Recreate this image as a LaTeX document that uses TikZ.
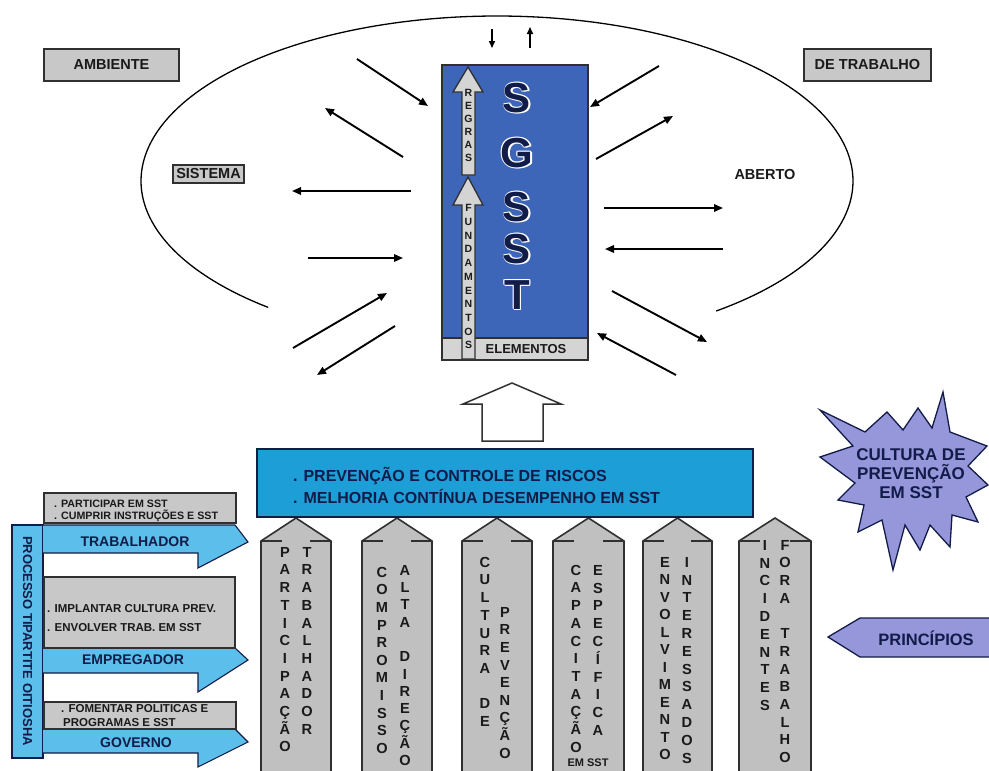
\documentclass[tikz,border=0pt]{standalone}
\usepackage{fontspec}
\setmainfont{Liberation Sans}
\usetikzlibrary{arrows.meta}

\definecolor{sgblue}{RGB}{61,102,184}
\definecolor{barblue}{RGB}{30,158,214}
\definecolor{lightblue}{RGB}{92,190,235}
\definecolor{navy}{RGB}{18,28,72}
\definecolor{boxgray}{RGB}{200,200,200}
\definecolor{stripgray}{RGB}{212,212,212}
\definecolor{pillargray}{RGB}{192,192,192}
\definecolor{lav}{RGB}{150,150,218}
\definecolor{edge}{RGB}{48,48,48}
\definecolor{ink}{RGB}{26,26,26}

% one vertical column of stacked letters: name, x, centre y of first letter, step, letters
\newcommand\lettercolumn[5]{%
  \foreach \ch [count=\k] in {#5} {
    \node[pillarletter] (#1-\k) at (#2,{#3+5.2+(\k-1)*#4}) {\ch};
  }%
}
% small stacked letters inside the two arrows of the SGSST block
\newcommand\smallcolumn[5]{%
  \foreach \ch [count=\k] in {#5} {
    \node[arrowletter] (#1-\k) at (#2,{#3+3.8+(\k-1)*#4}) {\ch};
  }%
}
% a large letter with a light halo
\newcommand\haloglyph[4]{%
  \foreach \dx/\dy [count=\j] in {1.5/1.5,-0.9/0.9,0.9/-0.9,-0.9/-0.9,1.6/0,0/1.6} {
    \node[sgletter,text=white] (#1h\j) at ({#2+\dx},{#3+15+\dy}) {#4};
  }
  \node[sgletter] (#1) at (#2,{#3+15}) {#4};
}

\begin{document}
\begin{tikzpicture}[x=1pt,y=-1pt,
  envbox/.style={draw=edge, line width=1.6pt, fill=boxgray, inner sep=0pt,
    font=\bfseries\fontsize{14.5}{17}\selectfont, text=ink},
  plainlabel/.style={inner sep=0pt, font=\bfseries\fontsize{14.5}{17}\selectfont, text=ink},
  flow/.style={line width=1.9pt, draw=black, -{Triangle[length=9pt,width=7.5pt]}},
  smallflow/.style={line width=1.5pt, draw=black, -{Triangle[length=7pt,width=6pt]}},
  pillar/.style={fill=pillargray, draw=edge, line width=1.6pt},
  pillarletter/.style={anchor=base, inner sep=0pt, text=ink,
    font=\bfseries\fontsize{14.6}{14.6}\selectfont},
  arrowletter/.style={anchor=base, inner sep=0pt, text=ink,
    font=\bfseries\fontsize{10.5}{10.5}\selectfont},
  sgletter/.style={anchor=base, inner sep=0pt, text=navy,
    font=\bfseries\fontsize{42}{42}\selectfont},
  graybox/.style={fill=boxgray, draw=edge, line width=1.4pt},
  bluearrow/.style={fill=lightblue, draw=navy, line width=1.1pt},
  boxtext/.style={anchor=base west, inner sep=0pt, text=ink,
    font=\bfseries\fontsize{11.5}{13}\selectfont},
  rolelabel/.style={inner sep=0pt, text=navy,
    font=\bfseries\fontsize{14}{16}\selectfont},
]
\useasboundingbox (0,0) rectangle (989,771);
\fill[white] (0,0) rectangle (989,771);

% ---------------- open system: ellipse with a gap at the bottom
\draw[line width=1.3pt] plot[domain=130:412, samples=160, smooth]
  ({497+356*cos(\x)}, {181+165*sin(\x)});

% ---------------- environment labels
\node[envbox, minimum width=135pt, minimum height=32pt] (ambiente) at (111.5,65) {AMBIENTE};
\node[envbox, minimum width=127pt, minimum height=32pt] (detrabalho) at (867.5,65) {DE TRABALHO};
\node[envbox, line width=1.3pt, minimum width=71pt, minimum height=18pt] (sistema) at (208.5,174) {SISTEMA};
\node[plainlabel] (aberto) at (765,175) {ABERTO};

% ---------------- SGSST block
\fill[sgblue] (442,65) rectangle (588,338);
\fill[stripgray] (442,338) rectangle (588,360);
\draw[edge, line width=1.4pt] (442,338) -- (588,338);
\draw[edge, line width=1.8pt] (442,65) rectangle (588,360);
\node[inner sep=0pt, text=ink, font=\bfseries\fontsize{13}{13}\selectfont] (elementos) at (526,349) {ELEMENTOS};

% inner arrows: REGRAS above FUNDAMENTOS
\draw[fill=stripgray, draw=edge, line width=1.3pt]
  (468,67) -- (483,92) -- (475,92) -- (475,175) -- (462,175) -- (462,92) -- (453,92) -- cycle;
\draw[fill=stripgray, draw=edge, line width=1.3pt]
  (468,177) -- (483,205) -- (475,205) -- (475,359) -- (462,359) -- (462,205) -- (453,205) -- cycle;
\smallcolumn{regras}{468.5}{92.5}{13.1}{R,E,G,R,A,S}
\smallcolumn{fund}{468.5}{208}{13.7}{F,U,N,D,A,M,E,N,T,O,S}

\haloglyph{sgA}{517}{97}{S}
\haloglyph{sgB}{517}{152}{G}
\haloglyph{sgC}{517}{206}{S}
\haloglyph{sgD}{517}{248}{S}
\haloglyph{sgE}{517}{294}{T}

% ---------------- exchanges with the environment
\coordinate (l1a) at (357,59);  \coordinate (l1b) at (428,106);
\coordinate (l2a) at (403,157); \coordinate (l2b) at (325,108);
\coordinate (l3a) at (411,191); \coordinate (l3b) at (292,191);
\coordinate (l4a) at (308,258); \coordinate (l4b) at (403,258);
\coordinate (l5a) at (293,348); \coordinate (l5b) at (387,293);
\coordinate (l6a) at (395,326); \coordinate (l6b) at (317,375);
\coordinate (r1a) at (659,66);  \coordinate (r1b) at (590,107);
\coordinate (r2a) at (596,159); \coordinate (r2b) at (673,116);
\coordinate (r3a) at (604,208); \coordinate (r3b) at (723,208);
\coordinate (r4a) at (723,249); \coordinate (r4b) at (605,249);
\coordinate (r5a) at (612,291); \coordinate (r5b) at (707,342);
\coordinate (r6a) at (676,375); \coordinate (r6b) at (597,333);
\coordinate (t1a) at (492,29);  \coordinate (t1b) at (492,48);
\coordinate (t2a) at (530,48);  \coordinate (t2b) at (530,27);
\foreach \p in {l1,l2,l5,l6,r1,r2,r5,r6} \draw[flow] (\p a) -- (\p b);
\foreach \p in {l3,l4,r3,r4} \draw[flow, line width=1.7pt] (\p a) -- (\p b);
\foreach \p in {t1,t2} \draw[smallflow] (\p a) -- (\p b);

% ---------------- hollow arrow from the objectives to the system
\draw[fill=white, draw=edge, line width=1.5pt]
  (512,383) -- (561,404) -- (543,404) -- (543,441) -- (482,441) -- (482,404) -- (463,404) -- cycle;

% ---------------- pillars
\foreach \L/\R in {261/331, 362/432, 462/532, 553/624, 643/712, 739/811} {
  \draw[pillar] (\L,776) -- (\L,541) -- ({(\L+\R)/2},518) -- (\R,541) -- (\R,776);
  \draw[edge, line width=1.6pt] (\L,541) -- (\L+21,541) (\R-21,541) -- (\R,541);
}
\lettercolumn{pa}{285}{552}{17.7}{P,A,R,T,I,C,I,P,A,Ç,Ã,O}
\lettercolumn{pb}{307}{552}{17.7}{T,R,A,B,A,L,H,A,D,O,R}
\lettercolumn{pc}{382}{572}{17.6}{C,O,M,P,R,O,M,I,S,S,O}
\lettercolumn{pd}{405}{570}{17.3}{A,L,T,A,{},D,I,R,E,Ç,Ã,O}
\lettercolumn{pe}{485}{562}{17.7}{C,U,L,T,U,R,A,{},D,E}
\lettercolumn{pf}{505}{612}{17.6}{P,R,E,V,E,N,Ç,Ã,O}
\lettercolumn{pg}{576}{570}{17.7}{C,A,P,A,C,I,T,A,Ç,Ã,O}
\lettercolumn{ph}{598}{570}{17.8}{E,S,P,E,C,Í,F,I,C,A}
\lettercolumn{pi}{665}{562}{17.5}{E,N,V,O,L,V,I,M,E,N,T,O}
\lettercolumn{pj}{687}{562}{17.8}{I,N,T,E,R,E,S,S,A,D,O,S}
\lettercolumn{pk}{765}{545}{17.8}{I,N,C,I,D,E,N,T,E,S}
\lettercolumn{pl}{785}{545}{17.7}{F,O,R,A,{},T,R,A,B,A,L,H,O}
\node[inner sep=0pt, text=ink, font=\bfseries\fontsize{11}{11}\selectfont] (emsst) at (588,763) {EM SST};

% ---------------- objectives bar
\draw[fill=barblue, draw=navy, line width=1.5pt] (257,449) rectangle (753,517);
\node[anchor=base west, inner sep=0pt, text=navy, font=\bfseries\fontsize{16}{16}\selectfont]
  (obj1) at (293,481.7) {. PREVENÇÃO E CONTROLE DE RISCOS};
\node[anchor=base west, inner sep=0pt, text=navy, font=\bfseries\fontsize{16}{16}\selectfont]
  (obj2) at (293,503.7) {. MELHORIA CONTÍNUA DESEMPENHO EM SST};

% ---------------- prevention culture burst
\draw[fill=lav, draw=navy, line width=1.3pt]
  (943,392) -- (950,432) -- (987,446) -- (968,466) -- (988,485) -- (966,497) -- (978,522)
  -- (952,515) -- (950,547) -- (930,525) -- (920,550) -- (905,525) -- (893,570) -- (882,520)
  -- (858,532) -- (864,505) -- (838,500) -- (855,483) -- (820,457) -- (853,446) -- (820,410)
  -- (865,432) -- (887,412) -- (903,430) -- (918,408) -- (932,428) -- cycle;
\node[align=center, inner sep=0pt, text=navy, font=\bfseries\fontsize{17}{19}\selectfont]
  (cultura) at (911,474) {CULTURA DE\\PREVENÇÃO\\EM SST};

% ---------------- principles tag
\draw[fill=lav, draw=navy, line width=1.3pt]
  (828,637) -- (860,618) -- (991,618) -- (991,657) -- (860,657) -- cycle;
\node[inner sep=0pt, text=navy, font=\bfseries\fontsize{16.5}{18}\selectfont] (principios) at (926,638) {PRINCÍPIOS};

% ---------------- tripartite process
\draw[fill=lightblue, draw=navy, line width=1.3pt] (12,525) rectangle (43,758);
\node[rotate=-90, inner sep=0pt, text=navy, font=\bfseries\fontsize{13}{13}\selectfont]
  (tripartite) at (27.5,641) {PROCESSO TIPARTITE OITIOSHA};

\draw[bluearrow] (43,525) -- (235,525) -- (248,542) -- (198,568) -- (198,553) -- (43,553);
\draw[bluearrow] (43,648) -- (235,648) -- (248,660) -- (198,692) -- (198,673) -- (43,673);
\draw[bluearrow] (43,729) -- (235,729) -- (248,742) -- (198,767) -- (198,753) -- (43,753);

\draw[graybox] (44,493) rectangle (236,523);
\draw[graybox] (44,577) rectangle (235,648);
\draw[graybox] (44,702) rectangle (236,729);

\node[boxtext, font=\bfseries\fontsize{10.7}{13}\selectfont] (tr1) at (54,507.5) {. PARTICIPAR EM SST};
\node[boxtext, font=\bfseries\fontsize{10.7}{13}\selectfont] (tr2) at (54,519.5) {. CUMPRIR INSTRUÇÕES E SST};
\node[boxtext] (em1) at (47,612) {. IMPLANTAR CULTURA PREV.};
\node[boxtext] (em2) at (47,631) {. ENVOLVER TRAB. EM SST};
\node[boxtext] (go1) at (61,712.5) {. FOMENTAR POLITICAS E};
\node[boxtext] (go2) at (63,726) {PROGRAMAS E SST};

\node[rolelabel] (trabalhador) at (135,542) {TRABALHADOR};
\node[rolelabel] (empregador) at (133,660) {EMPREGADOR};
\node[rolelabel] (governo) at (136,743) {GOVERNO};
\end{tikzpicture}
\end{document}
